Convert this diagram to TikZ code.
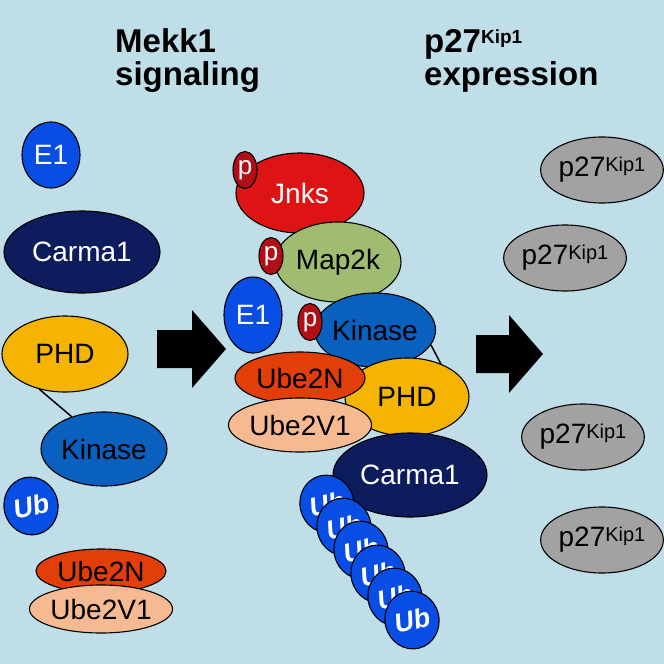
\documentclass[tikz,border=0pt]{standalone}
\usepackage{fontspec}
\setmainfont{Liberation Sans}
\usetikzlibrary{shapes.geometric}
\definecolor{bg}{RGB}{192,222,232}
\definecolor{eblue}{RGB}{8,78,228}
\definecolor{navy}{RGB}{12,28,92}
\definecolor{phdc}{RGB}{246,180,2}
\definecolor{kinc}{RGB}{10,96,190}
\definecolor{ubnc}{RGB}{226,62,10}
\definecolor{ubvc}{RGB}{246,186,146}
\definecolor{jnkc}{RGB}{222,20,20}
\definecolor{pc}{RGB}{178,14,22}
\definecolor{mapc}{RGB}{160,188,112}
\definecolor{greyc}{RGB}{162,162,162}
\begin{document}
\begin{tikzpicture}[x=1pt,y=-1pt,
  mol/.style={ellipse,draw=black,line width=1.1pt,inner sep=0pt,font=\fontsize{28}{30}\selectfont},
  sz/.style 2 args={minimum width=#1pt,minimum height=#2pt},
  pmark/.style={mol,fill=pc,text=white,sz={24}{37},font=\fontsize{26}{28}\selectfont},
  ub/.style={mol,fill=eblue,text=white,sz={54}{58},rotate=14,font=\fontsize{27}{28}\selectfont\bfseries\itshape},
  pkip/.style={mol,fill=greyc,sz={106}{66}},
  link/.style={line width=1.5pt,black},
  title/.style={anchor=base west,inner sep=0pt,font=\fontsize{33}{36}\selectfont\bfseries},
  blockarrow/.style={fill=black}]
\fill[bg] (0,0) rectangle (664,664);
\useasboundingbox (0,0) rectangle (664,664);

% titles
\node[title] (t1) at (115,52) {Mekk1};
\node[title] (t2) at (115,85) {signaling};
\node[title] (t3) at (424,52) {p27\raisebox{9pt}{\fontsize{19}{20}\selectfont\bfseries Kip1}};
\node[title] (t4) at (424,85) {expression};

% left column
\node[mol,fill=eblue,text=white,sz={58}{66}] (e1L) at (51,155) {E1};
\node[mol,fill=navy,text=white,sz={156}{82}] (carL) at (82,252) {Carma1};
\node[mol,fill=phdc,sz={126}{76}] (phdL) at (65,354) {PHD};
\node[mol,fill=kinc,sz={126}{74}] (kinL) at (104,449) {Kinase};
\draw[link] (phdL.-126) -- (kinL.135);
\node[ub] (ubL) at (31,506) {Ub};
\node[mol,fill=ubnc,sz={130}{44}] (ubnL) at (101,571) {Ube2N};
\node[mol,fill=ubvc,sz={130}{48}] (ubvL) at (101,609) {Ube2V1};

% arrows
\fill[blockarrow] (157,330) -- (192,330) -- (192,310) -- (226,349) -- (192,388) -- (192,368) -- (157,368) -- cycle;
\fill[blockarrow] (476,335) -- (509,335) -- (509,315) -- (543,354) -- (509,393) -- (509,373) -- (476,373) -- cycle;

% middle complex
\node[mol,fill=jnkc,text=white,sz={128}{80}] (jnk) at (300,193) {Jnks};
\node[pmark] (pj) at (245,170) {p};
\node[mol,fill=mapc,sz={126}{80}] (map) at (338,262) {Map2k};
\node[pmark] (pm) at (271,256) {p};
\node[mol,fill=kinc,sz={120}{74}] (kinM) at (375,330) {Kinase};
\node[pmark] (pk) at (310,322) {p};
\node[mol,fill=eblue,text=white,sz={58}{76}] (e1M) at (253,315) {E1};
\draw[link] (kinM.-15) -- (442,366);
\node[mol,fill=phdc,sz={124}{78}] (phdM) at (407,397) {PHD};
\node[mol,fill=ubnc,sz={130}{52}] (ubnM) at (300,378) {Ube2N};
\node[mol,fill=ubvc,sz={130}{54}] (ubvM) at (300,425) {Ube2V1};
\node[mol,fill=navy,text=white,sz={154}{84}] (carM) at (410,475) {Carma1};
\node[ub] (ub1) at (327,504) {Ub};
\node[ub] (ub2) at (344,527) {Ub};
\node[ub] (ub3) at (361,550) {Ub};
\node[ub] (ub4) at (378,574) {Ub};
\node[ub] (ub5) at (395,597) {Ub};
\node[ub] (ub6) at (412,620) {Ub};

% right column
\node[pkip] (k1) at (602,170) {p27\raisebox{5pt}{\fontsize{20}{20}\selectfont Kip1}};
\node[pkip] (k2) at (565,258) {p27\raisebox{5pt}{\fontsize{20}{20}\selectfont Kip1}};
\node[pkip] (k3) at (583,437) {p27\raisebox{5pt}{\fontsize{20}{20}\selectfont Kip1}};
\node[pkip] (k4) at (602,540) {p27\raisebox{5pt}{\fontsize{20}{20}\selectfont Kip1}};
\end{tikzpicture}
\end{document}
